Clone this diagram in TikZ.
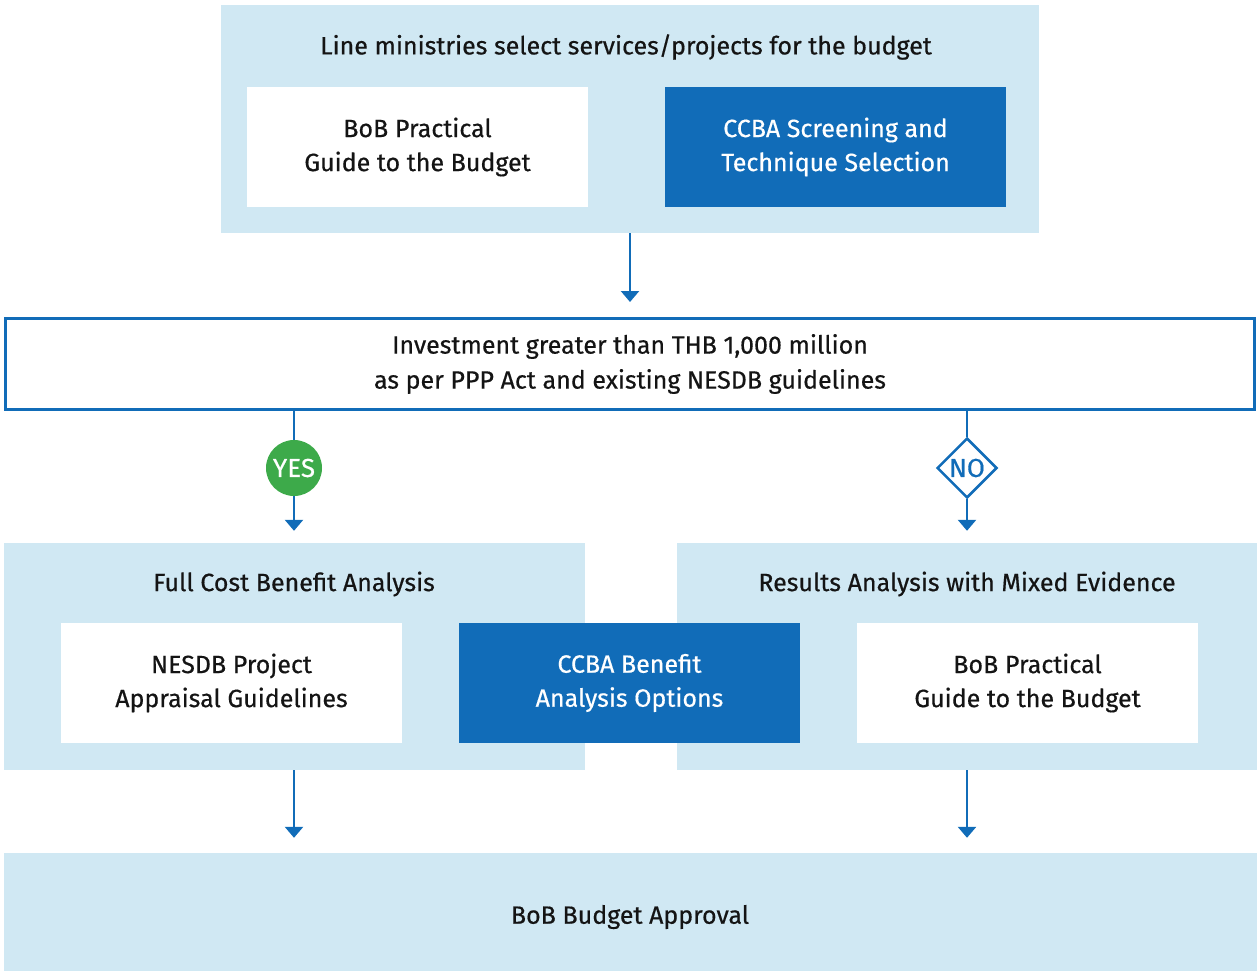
\documentclass[tikz,border=0pt]{standalone}
\usepackage{fontspec}
\setmainfont{Fira Sans}[FakeBold=0.5]
\usetikzlibrary{arrows.meta,shapes.geometric}

\definecolor{paleblue}{HTML}{D0E8F3}
\definecolor{deepblue}{HTML}{116CB8}
\definecolor{yesgreen}{HTML}{3DAA4A}
\definecolor{inkdark}{HTML}{141414}

\tikzset{
  panel/.style={fill=paleblue, inner sep=0pt},
  guidebox/.style={fill=white, minimum width=341pt, minimum height=120pt,
    align=center, text=inkdark, font=\fontsize{25}{34}\selectfont},
  techbox/.style={guidebox, fill=deepblue, text=white},
  heading/.style={text=inkdark, font=\fontsize{25}{34}\selectfont},
  flow/.style={draw=deepblue, line width=2.5pt,
    -{Triangle[width=18pt,length=11pt]}},
  link/.style={draw=deepblue, line width=2.5pt}
}

\begin{document}
\begin{tikzpicture}[x=1pt, y=-1pt]
    \useasboundingbox (0,0) rectangle (1257,971);
    % top stage
    \node[panel, minimum width=818pt, minimum height=228pt] (select) at (630,119) {};
    \node[heading] (selecttitle) at (626,47) {Line ministries select services/projects for the budget};
    \node[guidebox] (bobguide) at (417.5,147) {BoB Practical\\Guide to the Budget};
    \node[techbox] (screening) at (835.5,147) {CCBA Screening and\\Technique Selection};
    % threshold test
    \node[draw=deepblue, line width=3pt, fill=white, minimum width=1249pt,
      minimum height=91pt, align=center, text=inkdark,
      font=\fontsize{25}{35}\selectfont] (threshold) at (630,364)
      {Investment greater than THB 1,000 million\\as per PPP Act and existing NESDB guidelines};
    \node[circle, fill=yesgreen, minimum size=56pt, inner sep=0pt, text=white,
      font=\fontsize{26}{24}\selectfont] (yes) at (294,468) {YES};
    \node[diamond, draw=deepblue, line width=2.5pt, fill=white, minimum width=60pt,
      minimum height=60pt, inner sep=0pt, text=deepblue,
      font=\fontsize{26}{24}\selectfont] (no) at (967,468) {NO};
    % analysis stage
    \node[panel, minimum width=581pt, minimum height=227pt] (fullcba) at (294.5,656.5) {};
    \node[heading] (fulltitle) at (294,584) {Full Cost Benefit Analysis};
    \node[panel, minimum width=580pt, minimum height=227pt] (results) at (967,656.5) {};
    \node[heading] (resultstitle) at (967,584) {Results Analysis with Mixed Evidence};
    \node[guidebox] (nesdb) at (231.5,683) {NESDB Project\\Appraisal Guidelines};
    \node[techbox] (options) at (629.5,683) {CCBA Benefit\\Analysis Options};
    \node[guidebox] (bobguide2) at (1027.5,683) {BoB Practical\\Guide to the Budget};
    % approval
    \node[panel, minimum width=1253pt, minimum height=118pt] (approval) at (630.5,912) {};
    \node[heading] (approvaltext) at (630,917) {BoB Budget Approval};
    % connectors
    \draw[flow, shorten >=15pt] (select.south) -- (threshold.north -| select.south);
    \draw[link] (yes.north |- threshold.south) -- (yes.north);
    \draw[flow, shorten >=12pt] (yes.south) -- (yes.south |- fullcba.north);
    \draw[link] (no.north |- threshold.south) -- (no.north);
    \draw[flow, shorten >=12pt] (no.south) -- (no.south |- results.north);
    \draw[flow, shorten >=15pt] (yes.south |- fullcba.south) -- (yes.south |- approval.north);
    \draw[flow, shorten >=15pt] (no.south |- results.south) -- (no.south |- approval.north);
\end{tikzpicture}
\end{document}
